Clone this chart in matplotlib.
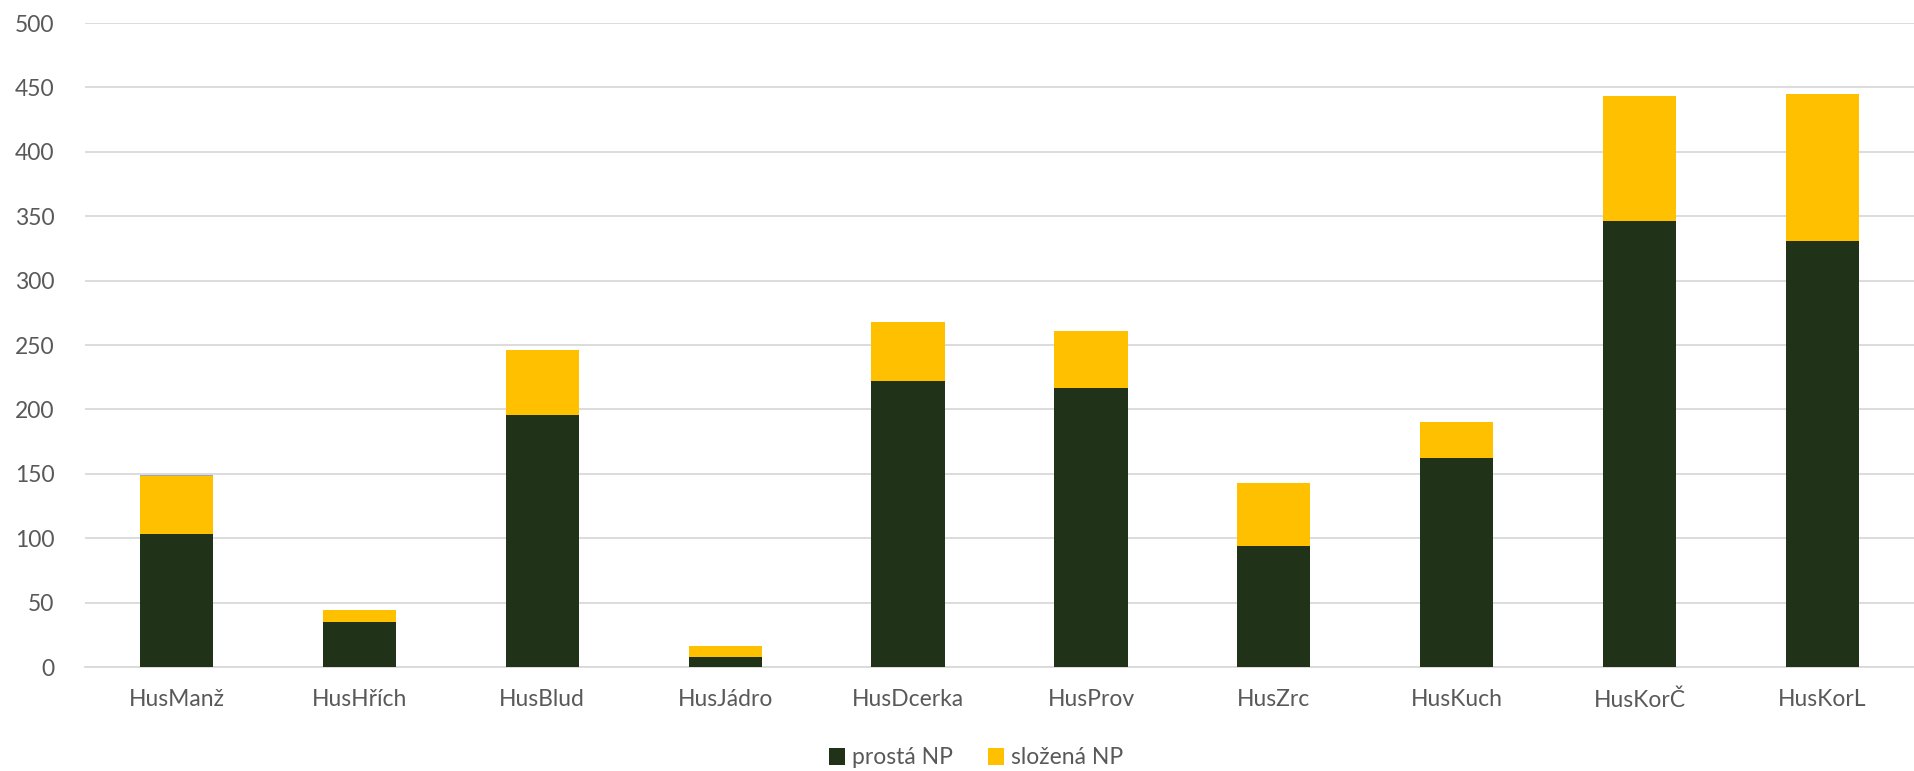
import numpy as np
import matplotlib.pyplot as plt

categories = ['HusManž', 'HusHřích', 'HusBlud', 'HusJádro', 'HusDcerka',
              'HusProv', 'HusZrc', 'HusKuch', 'HusKorČ', 'HusKorL']
prosta = [103, 35, 196, 8, 222, 217, 94, 162, 346, 331]
slozena = [45, 9, 50, 8, 46, 44, 49, 28, 97, 114]
ostatni = [1, 0, 0, 0, 0, 0, 0, 0, 0, 0]

plt.rcParams['font.family'] = ['Lato', 'DejaVu Sans']

fig = plt.figure(figsize=(19.14, 7.71), dpi=100)
ax = fig.add_axes([85 / 1914, 104 / 771, 1 - 85 / 1914, 644 / 771])

x = np.arange(len(categories))
w = 0.4
b1 = ax.bar(x, prosta, w, color='#203318', label='prostá NP', zorder=3)
b2 = ax.bar(x, slozena, w, bottom=prosta, color='#FFC000', label='složená NP', zorder=3)
bottom3 = np.array(prosta) + np.array(slozena)
ax.bar(x, ostatni, w, bottom=bottom3, color='#A5A5A5', zorder=3)

ax.set_xlim(-0.5, len(categories) - 0.5)
ax.set_ylim(0, 500)
ax.set_yticks(np.arange(0, 501, 50))
ax.set_xticks(x)
ax.set_xticklabels(categories)
ax.tick_params(axis='both', length=0, labelsize=16.5, colors='#595959')
ax.tick_params(axis='x', pad=16)
ax.tick_params(axis='y', pad=22)
ax.grid(axis='y', color='#d9d9d9', linewidth=1.3, zorder=0)
for s in ['top', 'right', 'left']:
    ax.spines[s].set_visible(False)
ax.spines['bottom'].set_color('#d9d9d9')
ax.spines['bottom'].set_linewidth(1.3)

leg = fig.legend(handles=[b1, b2], loc='center', bbox_to_anchor=(0.51, 1 - 758 / 771),
                 ncol=2, frameon=False, fontsize=16.5, handlelength=0.7,
                 handleheight=0.7, handletextpad=0.3, columnspacing=1.5)
for t in leg.get_texts():
    t.set_color('#595959')

fig.savefig('out.png', dpi=100)
